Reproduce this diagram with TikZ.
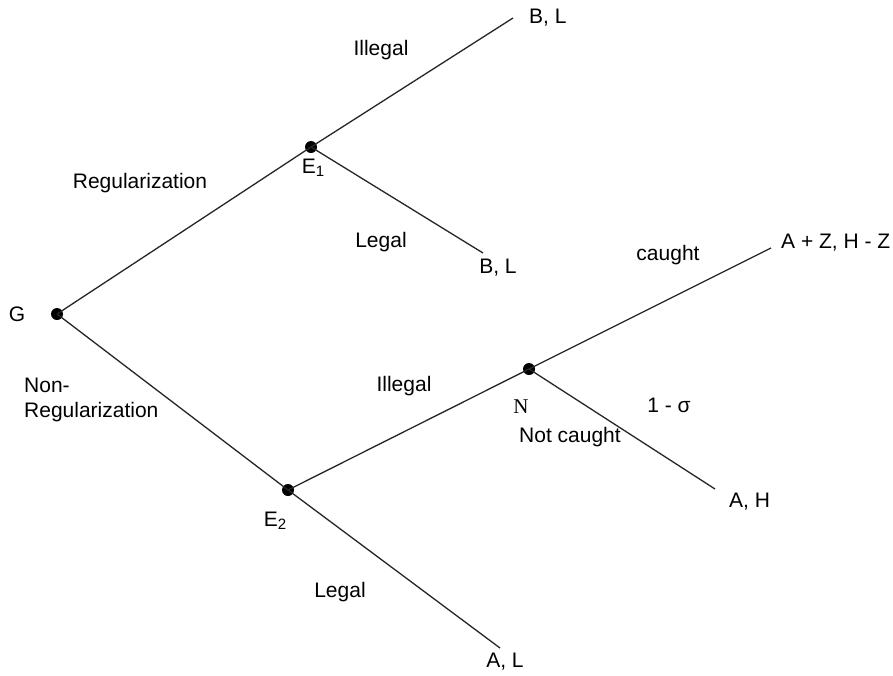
\documentclass[tikz,border=0pt]{standalone}
\usepackage{fontspec}
\setmainfont{Liberation Sans}
\newfontfamily\serifN{Liberation Serif}
\newcommand{\Esub}[1]{E\raisebox{-0.25ex}{\fontsize{15}{15}\selectfont #1}}
\begin{document}
\begin{tikzpicture}[x=1pt,y=-1pt,
  font=\fontsize{21}{25}\selectfont,
  branch/.style={line width=1.3pt, black!85},
  dotnode/.style={circle, fill=black, inner sep=0pt, minimum size=12pt},
  lbl/.style={inner sep=0pt, anchor=center, text=black}]
\useasboundingbox (0,0) rectangle (893,675);
\fill[white] (0,0) rectangle (893,675);
% decision nodes
\node[dotnode] (G) at (57,314) {};
\node[dotnode] (E1) at (311,147) {};
\node[dotnode] (E2) at (288,490) {};
\node[dotnode] (N) at (529,369) {};
% terminal points
\coordinate (T1) at (513,18);
\coordinate (T2) at (483,253);
\coordinate (T3) at (771,248);
\coordinate (T4) at (715,489);
\coordinate (T5) at (500,648);
% branches
\draw[branch] (G.center) -- (E1.center);
\draw[branch] (E1.center) -- (T1);
\draw[branch] (E1.center) -- (T2);
\draw[branch] (G.center) -- (E2.center);
\draw[branch] (E2.center) -- (N.center);
\draw[branch] (N.center) -- (T3);
\draw[branch] (N.center) -- (T4);
\draw[branch] (E2.center) -- (T5);
% labels
\node[lbl] (lG) at (17,314) {G};
\node[lbl] (lE1) at (313,168) {\Esub{1}};
\node[lbl] (lE2) at (275,521) {\Esub{2}};
\node[lbl] (lN) at (521,407) {\serifN N};
\node[lbl, anchor=west] (lT1) at (529,18) {B, L};
\node[lbl] (lT2) at (498,268) {B, L};
\node[lbl, anchor=west] (lT3) at (781,243) {A + Z, H - Z};
\node[lbl, anchor=west] (lT4) at (729,502) {A, H};
\node[lbl] (lT5) at (505,662) {A, L};
\node[lbl] (lIll1) at (381,50) {Illegal};
\node[lbl] (lReg) at (140,183) {Regularization};
\node[lbl] (lLeg1) at (381,242) {Legal};
\node[lbl] (lCau) at (668,255) {caught};
\node[lbl] (lSig) at (669,405) {1 - σ};
\node[lbl] (lIll2) at (404,386) {Illegal};
\node[lbl, anchor=north west, align=left] (lNon) at (24,378) {Non-\\Regularization};
\node[lbl] (lNC) at (570,437) {Not caught};
\node[lbl] (lLeg2) at (340,592) {Legal};
\end{tikzpicture}
\end{document}
